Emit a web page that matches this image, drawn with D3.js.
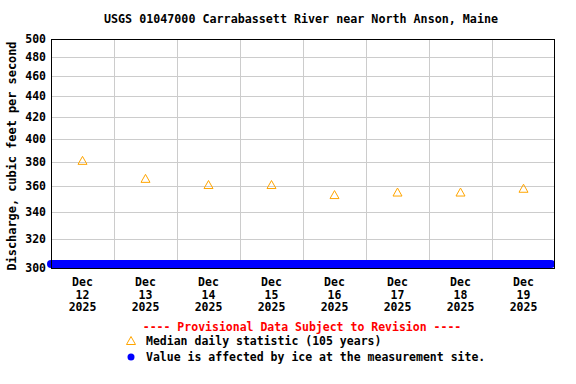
<!DOCTYPE html>
<html>
<head>
<meta charset="utf-8">
<script src="https://cdn.jsdelivr.net/npm/d3@7"></script>
<style>
  body { margin: 0; background: #fff; }
  text { font-family: "DejaVu Sans Mono", "Liberation Mono", monospace; font-weight: bold; }
</style>
</head>
<body>
<script>
// data
var title = 'USGS 01047000 Carrabassett River near North Anson, Maine';
var dayStarts = ['2025-12-12', '2025-12-13', '2025-12-14', '2025-12-15',
                 '2025-12-16', '2025-12-17', '2025-12-18', '2025-12-19', '2025-12-20'];
var medianDays = ['2025-12-12', '2025-12-13', '2025-12-14', '2025-12-15',
                  '2025-12-16', '2025-12-17', '2025-12-18', '2025-12-19'];
var medianValues = [381, 366, 361, 361, 353, 355, 355, 358];
var yTicks = [300, 320, 340, 360, 380, 400, 420, 440, 460, 480, 500];
// ice-affected period (no discharge value, plotted along the bottom)
var iceStart = '2025-12-12T00:00';
var iceEnd = '2025-12-19T22:30';

var width = 576, height = 384,
    plotL = 51, plotR = 555, plotT = 39, plotB = 268;

var parse = d3.timeParse('%Y-%m-%d'),
    parseT = d3.timeParse('%Y-%m-%dT%H:%M');

var svg = d3.select('body').append('svg')
    .attr('width', width)
    .attr('height', height);

var x = d3.scaleTime()
    .domain([parse(dayStarts[0]), parse(dayStarts[dayStarts.length - 1])])
    .range([plotL, plotR]);

var y = d3.scaleLog()
    .domain([300, 500])
    .range([plotB, plotT]);

// title
svg.append('text')
    .attr('x', 301)
    .attr('y', 23)
    .attr('text-anchor', 'middle')
    .attr('font-size', '11.7px')
    .text(title);

// grid
svg.append('g').selectAll('line')
    .data(yTicks.slice(1, -1))
    .enter().append('line')
    .attr('x1', plotL).attr('x2', plotR)
    .attr('y1', function(d) { return Math.round(y(d)) + 0.5; })
    .attr('y2', function(d) { return Math.round(y(d)) + 0.5; })
    .attr('stroke', '#cccccc');

svg.append('g').selectAll('line')
    .data(dayStarts.slice(1, -1))
    .enter().append('line')
    .attr('y1', plotT).attr('y2', plotB)
    .attr('x1', function(d) { return Math.round(x(parse(d))) + 0.5; })
    .attr('x2', function(d) { return Math.round(x(parse(d))) + 0.5; })
    .attr('stroke', '#cccccc');

// y tick labels
svg.append('g').selectAll('text')
    .data(yTicks)
    .enter().append('text')
    .attr('x', plotL - 5)
    .attr('y', function(d) { return y(d) + 4; })
    .attr('text-anchor', 'end')
    .attr('font-size', '11.5px')
    .text(function(d) { return d; });

// x tick labels (centered on each day)
var fmtMon = d3.timeFormat('%b'), fmtDay = d3.timeFormat('%d'), fmtYr = d3.timeFormat('%Y');
var xl = svg.append('g').selectAll('text')
    .data(medianDays)
    .enter().append('text')
    .attr('text-anchor', 'middle')
    .attr('font-size', '11.5px')
    .attr('transform', function(d) {
        var t = d3.timeHour.offset(parse(d), 12);
        return 'translate(' + x(t) + ',' + (plotB + 18) + ')';
    });
xl.append('tspan').attr('x', 0).attr('dy', 0).text(function(d) { return fmtMon(parse(d)); });
xl.append('tspan').attr('x', 0).attr('dy', 12.5).text(function(d) { return fmtDay(parse(d)); });
xl.append('tspan').attr('x', 0).attr('dy', 12.5).text(function(d) { return fmtYr(parse(d)); });

// y axis title
svg.append('text')
    .attr('transform', 'translate(16,156) rotate(-90)')
    .attr('text-anchor', 'middle')
    .attr('font-size', '11.9px')
    .text('Discharge, cubic feet per second');

// ice band
svg.append('line')
    .attr('x1', x(parseT(iceStart)))
    .attr('x2', x(parseT(iceEnd)))
    .attr('y1', y(300) - 4)
    .attr('y2', y(300) - 4)
    .attr('stroke', '#0000ff')
    .attr('stroke-width', 8)
    .attr('stroke-linecap', 'round');

// plot border
svg.append('rect')
    .attr('x', plotL + 0.5).attr('y', plotT + 0.5)
    .attr('width', plotR - plotL - 1).attr('height', plotB - plotT)
    .attr('fill', 'none')
    .attr('stroke', '#000');

// median triangles
var tri = 'M0,-4.5 L4.5,3.5 L-4.5,3.5 Z';
svg.append('g').selectAll('path')
    .data(medianDays)
    .enter().append('path')
    .attr('d', tri)
    .attr('transform', function(d, i) {
        var t = d3.timeHour.offset(parse(d), 12);
        return 'translate(' + x(t) + ',' + y(medianValues[i]) + ')';
    })
    .attr('fill', 'none')
    .attr('stroke', '#ffa500')
    .attr('stroke-width', 1);

// legend
svg.append('text')
    .attr('x', 302)
    .attr('y', 331)
    .attr('text-anchor', 'middle')
    .attr('font-size', '11.5px')
    .attr('fill', '#ff0000')
    .text('---- Provisional Data Subject to Revision ----');

svg.append('path')
    .attr('d', tri)
    .attr('transform', 'translate(131,341)')
    .attr('fill', 'none')
    .attr('stroke', '#ffa500');

svg.append('text')
    .attr('x', 146).attr('y', 345)
    .attr('font-size', '11.5px')
    .text('Median daily statistic (105 years)');

svg.append('circle')
    .attr('cx', 131).attr('cy', 357)
    .attr('r', 3.5)
    .attr('fill', '#0000ff');

svg.append('text')
    .attr('x', 146).attr('y', 361)
    .attr('font-size', '11.5px')
    .text('Value is affected by ice at the measurement site.');
</script>
</body>
</html>
